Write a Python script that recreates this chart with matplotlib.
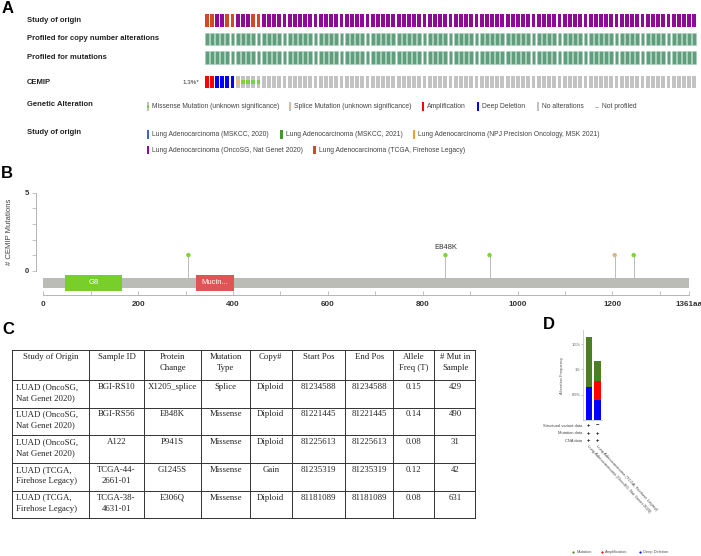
import matplotlib
matplotlib.use("Agg")
import matplotlib.pyplot as plt
from matplotlib.patches import Rectangle
from matplotlib import transforms

# ---------------- DATA ----------------
# Panel A: oncoprint (visible columns)
study_altered = ["TCGA", "TCGA", "OncoSG", "OncoSG", "TCGA", "TCGA",
                 "OncoSG", "OncoSG", "OncoSG", "TCGA", "TCGA"]
cemip_altered = ["AMP", "AMP", "HOMDEL", "HOMDEL", "HOMDEL", "HOMDEL",
                 "SPLICE", "MISSENSE", "MISSENSE", "MISSENSE", "MISSENSE"]
n_unaltered_visible = 84
study_row = study_altered + ["OncoSG"] * n_unaltered_visible
cemip_row = cemip_altered + ["NONE"] * n_unaltered_visible
cemip_freq_label = "1.3%*"
track_labels = ["Study of origin", "Profiled for copy number alterations",
                "Profiled for mutations", "CEMIP"]

alteration_legend = ["Missense Mutation (unknown significance)",
                     "Splice Mutation (unknown significance)",
                     "Amplification", "Deep Deletion", "No alterations", "Not profiled"]
study_legend = ["Lung Adenocarcinoma (MSKCC, 2020)", "Lung Adenocarcinoma (MSKCC, 2021)",
                "Lung Adenocarcinoma (NPJ Precision Oncology, MSK 2021)",
                "Lung Adenocarcinoma (OncoSG, Nat Genet 2020)",
                "Lung Adenocarcinoma (TCGA, Firehose Legacy)"]

# Panel B: lollipop
protein_length = 1361
domain_names = ["G8", "Mucin..."]
domain_starts = [46, 323]
domain_ends = [166, 402]
mut_positions = [306, 848, 941, 1205, 1245]
mut_counts = [1, 1, 1, 1, 1]
mut_types = ["MISSENSE", "MISSENSE", "MISSENSE", "SPLICE", "MISSENSE"]
mut_labels = ["", "E848K", "", "", ""]
x_ticks_b = [0, 200, 400, 600, 800, 1000, 1200]

# Panel C: table
table_header = ["Study of Origin", "Sample ID", "Protein\nChange", "Mutation\nType",
                "Copy#", "Start Pos", "End Pos", "Allele\nFreq (T)", "# Mut in\nSample"]
tbl_study = ["LUAD (OncoSG,\nNat Genet 2020)", "LUAD (OncoSG,\nNat Genet 2020)",
             "LUAD (OncoSG,\nNat Genet 2020)", "LUAD (TCGA,\nFirehose Legacy)",
             "LUAD (TCGA,\nFirehose Legacy)"]
tbl_sample = ["BGI-RS10", "BGI-RS56", "A122", "TCGA-44-\n2661-01", "TCGA-38-\n4631-01"]
tbl_protein = ["X1205_splice", "E848K", "P941S", "G1245S", "E306Q"]
tbl_mtype = ["Splice", "Missense", "Missense", "Missense", "Missense"]
tbl_copy = ["Diploid", "Diploid", "Diploid", "Gain", "Diploid"]
tbl_start = ["81234588", "81221445", "81225613", "81235319", "81181089"]
tbl_end = ["81234588", "81221445", "81225613", "81235319", "81181089"]
tbl_af = ["0.15", "0.14", "0.08", "0.12", "0.08"]
tbl_nmut = ["429", "490", "31", "42", "631"]

# Panel D: cancer type summary
d_studies = ["Lung Adenocarcinoma (OncoSG, Nat Genet 2020)",
             "Lung Adenocarcinoma (TCGA, Firehose Legacy)"]
d_deep_del = [0.65, 0.39]
d_amp = [0.0, 0.39]
d_mutation = [0.99, 0.38]
d_struct = ["+", "\u2212"]
d_mutdata = ["+", "+"]
d_cnadata = ["+", "+"]
d_yticks = [0.5, 1.0, 1.5]
d_ytick_labels = ["0.5%", "1%", "1.5%"]

# ---------------- STYLE ----------------
W, H = 701, 556
SANS = "Liberation Sans"
SERIF = "Liberation Serif"
plt.rcParams["font.family"] = [SANS, "DejaVu Sans"]

C_PURPLE = "#8e0b96"
C_TCGA = "#d04a24"
C_PROF = "#5f9f7c"
C_GRAY = "#c3c3c3"
C_AMP = "#ff0000"
C_DEL = "#0000ff"
C_MIS = "#80d03c"
C_SPL = "#e6b88a"
study_colors = {"OncoSG": C_PURPLE, "TCGA": C_TCGA}
legend_study_colors = ["#3a62d8", "#3f9a2a", "#f0a030", C_PURPLE, C_TCGA]

fig = plt.figure(figsize=(W / 100, H / 100), dpi=100)


def px_axes(x0, y0, x1, y1):
    return fig.add_axes([x0 / W, 1 - y1 / H, (x1 - x0) / W, (y1 - y0) / H])


ov = fig.add_axes([0, 0, 1, 1])
ov.set_xlim(0, W)
ov.set_ylim(H, 0)
ov.axis("off")

# panel letters
for letter, (lx, ly) in zip("ABCD", [(2, 1), (1, 166), (2, 322), (543, 317)]):
    ov.text(lx, ly, letter, fontsize=12, fontweight="bold", va="top", ha="left")

# ---------------- PANEL A ----------------
ncol = len(study_row)
row_pos = [0, 1, 2, 3.3]
row_px = [20.3, 39.0, 57.7, 82.0]
axA = px_axes(204, 10, 697, 92)
axA.set_xlim(-0.5, ncol - 0.5)
axA.set_ylim(3.83, -0.55)
axA.axis("off")
bw, bh = 0.74, 0.675
for i in range(ncol):
    axA.add_patch(Rectangle((i - bw / 2, row_pos[0] - bh / 2), bw, bh,
                            color=study_colors[study_row[i]], lw=0))
    for r in (1, 2):
        axA.add_patch(Rectangle((i - bw / 2, row_pos[r] - bh / 2), bw, bh,
                                facecolor=C_PROF, edgecolor="#a8ccb8", lw=0.4))
    alt = cemip_row[i]
    base = {"AMP": C_AMP, "HOMDEL": C_DEL}.get(alt, C_GRAY)
    axA.add_patch(Rectangle((i - bw / 2, row_pos[3] - bh / 2), bw, bh, color=base, lw=0))
    if alt in ("MISSENSE", "SPLICE"):
        col = C_MIS if alt == "MISSENSE" else C_SPL
        axA.add_patch(Rectangle((i - bw / 2, row_pos[3] - bh / 6), bw, bh / 3, color=col, lw=0))

for lab, y in zip(track_labels, row_px):
    ov.text(27, y, lab, fontsize=5.5, fontweight="bold", va="center", ha="left", color="#222")
ov.text(199, 82, cemip_freq_label, fontsize=4.5, va="center", ha="right", color="#333")

ov.text(27, 104.3, "Genetic Alteration", fontsize=5.5, fontweight="bold", va="center", color="#222")
ov.text(27, 132.7, "Study of origin", fontsize=5.5, fontweight="bold", va="center", color="#222")

# alteration legend
alt_x = [146.5, 288.5, 421.5, 476.5, 536.5, 595]
y_leg = 106.7
sw_w, sw_h = 2.6, 8.5
for k, (lab, x) in enumerate(zip(alteration_legend, alt_x)):
    if k in (0, 1):
        ov.add_patch(Rectangle((x, y_leg - sw_h / 2), sw_w, sw_h, color=C_GRAY, lw=0))
        ov.add_patch(Rectangle((x, y_leg - sw_h / 6), sw_w, sw_h / 3,
                               color=C_MIS if k == 0 else C_SPL, lw=0))
        tx = x + 5.5
    elif k == 5:
        ov.plot([x, x + 2.5], [y_leg, y_leg], color="#aaa", lw=0.6)
        tx = x + 6.5
    else:
        c = [None, None, C_AMP, C_DEL, C_GRAY][k]
        ov.add_patch(Rectangle((x, y_leg - sw_h / 2), sw_w, sw_h, color=c, lw=0))
        tx = x + 5.5
    ov.text(tx, y_leg, lab, fontsize=4.9, va="center", ha="left", color="#444")

# study legend
st_pos = [(146.5, 134.3), (280, 134.3), (412.7, 134.3), (146.5, 150), (313.3, 150)]
for lab, c, (x, y) in zip(study_legend, legend_study_colors, st_pos):
    ov.add_patch(Rectangle((x, y - sw_h / 2), sw_w, sw_h, color=c, lw=0))
    ov.text(x + 5.5, y, lab, fontsize=4.9, va="center", ha="left", color="#444")

# ---------------- PANEL B ----------------
scale = (688.7 - 43.3) / protein_length
unit = 15.6
ybot = -(295 - 270.7) / unit
axB = px_axes(36, 192.7, 690, 295)
axB.set_xlim((36 - 43.3) / scale, (690 - 43.3) / scale)
axB.set_ylim(ybot, 5)
for s in ("top", "right"):
    axB.spines[s].set_visible(False)
axB.spines["left"].set_bounds(0, 5)
axB.spines["bottom"].set_bounds(0, protein_length)
for s in ("left", "bottom"):
    axB.spines[s].set_color("#aaaaaa")
    axB.spines[s].set_linewidth(0.6)
axB.set_yticks(range(6))
axB.set_yticklabels(["0", "", "", "", "", "5"])
axB.tick_params(axis="y", length=3, width=0.5, color="#aaaaaa", labelsize=5.5,
                labelcolor="#333", pad=2)
bt = list(range(0, 1400, 100)) + [protein_length]
axB.set_xticks(bt)
axB.set_xticklabels([str(t) if t in x_ticks_b else ("1361aa" if t == protein_length else "")
                     for t in bt])
axB.tick_params(axis="x", direction="in", length=3, width=0.5, color="#aaaaaa",
                labelsize=5.8, labelcolor="#333", pad=4)
for t in axB.get_xticklabels():
    t.set_fontweight("bold")
for t in axB.get_yticklabels():
    t.set_fontweight("bold")

gb_top = -(278.3 - 270.7) / unit
gb_bot = -(287.7 - 270.7) / unit
axB.add_patch(Rectangle((0, gb_bot), protein_length, gb_top - gb_bot,
                        color="#babcb5", lw=0, zorder=1))
d_top = -(275 - 270.7) / unit
d_bot = -(290.7 - 270.7) / unit
dom_colors = ["#78cf2c", "#e05456"]
for name, s, e, c in zip(domain_names, domain_starts, domain_ends, dom_colors):
    axB.add_patch(Rectangle((s, d_bot), e - s, d_top - d_bot, color=c, lw=0, zorder=2))
    axB.text((s + e) / 2, (d_top + d_bot) / 2, name, color="white", fontsize=5.5,
             ha="center", va="center", zorder=3)
mcol = {"MISSENSE": "#7fd23a", "SPLICE": "#dcb889"}
axB.vlines(mut_positions, gb_top, mut_counts, color="#bbbbbb", lw=0.7, zorder=1)
axB.scatter(mut_positions, mut_counts, s=10, c=[mcol[t] for t in mut_types],
            zorder=4, linewidths=0)
for p, cnt, lab in zip(mut_positions, mut_counts, mut_labels):
    if lab:
        axB.text(p, cnt + 0.5, lab, fontsize=5.5, ha="center", va="center", color="#333")
ov.text(10, 231.7, "# CEMIP Mutations", rotation=90, fontsize=5.6, ha="center",
        va="center", color="#444")

# ---------------- PANEL C ----------------
col_w = [77.3, 55, 57, 49, 41.7, 53.3, 48.3, 41, 41.7]
hdr_h, row_h = 30, 27.7
tw = sum(col_w)
th = hdr_h + row_h * 5
axC = px_axes(11.7, 350, 11.7 + tw, 350 + th)
axC.set_xlim(0, tw)
axC.set_ylim(th, 0)
axC.axis("off")
edges = [0]
for w_ in col_w:
    edges.append(edges[-1] + w_)
row_edges = [0, hdr_h] + [hdr_h + row_h * (k + 1) for k in range(5)]
for x in edges[1:-1]:
    axC.plot([x, x], [0, th], color="#333", lw=0.7)
for y in row_edges[1:-1]:
    axC.plot([0, tw], [y, y], color="#333", lw=0.7)
axC.add_patch(Rectangle((0, 0), tw, th, fill=False, edgecolor="#222", lw=1.3))
columns = [tbl_study, tbl_sample, tbl_protein, tbl_mtype, tbl_copy, tbl_start,
           tbl_end, tbl_af, tbl_nmut]
tkw = dict(fontsize=6.3, family=SERIF, color="#222", va="top", linespacing=1.5)
for j, h in enumerate(table_header):
    axC.text((edges[j] + edges[j + 1]) / 2, 3.0, h, ha="center", **tkw)
for j, col in enumerate(columns):
    for r, val in enumerate(col):
        ytop = row_edges[r + 1] + 2.8
        if j == 0:
            axC.text(edges[j] + 4.5, ytop, val, ha="left", **tkw)
        else:
            axC.text((edges[j] + edges[j + 1]) / 2, ytop, val, ha="center",
                     multialignment="center", **tkw)

# ---------------- PANEL D ----------------
d_unit = (420.3 - 344) / 1.5
axD = px_axes(583.3, 330, 602, 420.3)
axD.set_xlim(-0.62, 1.5)
axD.set_ylim(0, (420.3 - 330) / d_unit)
xs = [0, 1]
bwd = 0.72
axD.bar(xs, d_deep_del, width=bwd, color=C_DEL, lw=0)
axD.bar(xs, d_amp, width=bwd, bottom=d_deep_del, color=C_AMP, lw=0)
bot2 = [a + b for a, b in zip(d_deep_del, d_amp)]
axD.bar(xs, d_mutation, width=bwd, bottom=bot2, color="#4b7f1f", lw=0)
for s in ("top", "right"):
    axD.spines[s].set_visible(False)
for s in ("left", "bottom"):
    axD.spines[s].set_color("#bbbbbb")
    axD.spines[s].set_linewidth(0.5)
axD.set_xticks([])
axD.set_yticks(d_yticks)
axD.set_yticklabels(d_ytick_labels)
axD.tick_params(axis="y", length=1.2, width=0.4, color="#999", labelsize=2.9,
                labelcolor="#555", pad=0.8)
ov.text(562, 375, "Alteration Frequency", rotation=90, fontsize=2.9, ha="center",
        va="center", color="#555")
trD = transforms.blended_transform_factory(axD.transData, ov.transData)
row_names = ["Structural variant data", "Mutation data", "CNA data"]
row_vals = [d_struct, d_mutdata, d_cnadata]
row_y = [425.7, 433.3, 441]
for name, vals, y in zip(row_names, row_vals, row_y):
    ov.text(582, y, name, fontsize=2.9, ha="right", va="center", color="#444")
    for x, v in zip(xs, vals):
        ov.text(x, y, v, transform=trD, fontsize=4.2, fontweight="bold",
                ha="center", va="center", color="#111")
for x, name in zip(xs, d_studies):
    ov.text(x - 0.1, 446, name, transform=trD, fontsize=3.0, rotation=-47,
            rotation_mode="anchor", ha="left", va="center", color="#444")
leg_items = [("Mutation", "#4b7f1f", 573.3), ("Amplification", C_AMP, 601.7),
             ("Deep Deletion", C_DEL, 640)]
for lab, c, x in leg_items:
    ov.scatter([x], [552.3], s=2.5, color=c, linewidths=0)
    ov.text(x + 3, 552.3, lab, fontsize=2.9, ha="left", va="center", color="#555")

fig.savefig("out.png", dpi=100)
